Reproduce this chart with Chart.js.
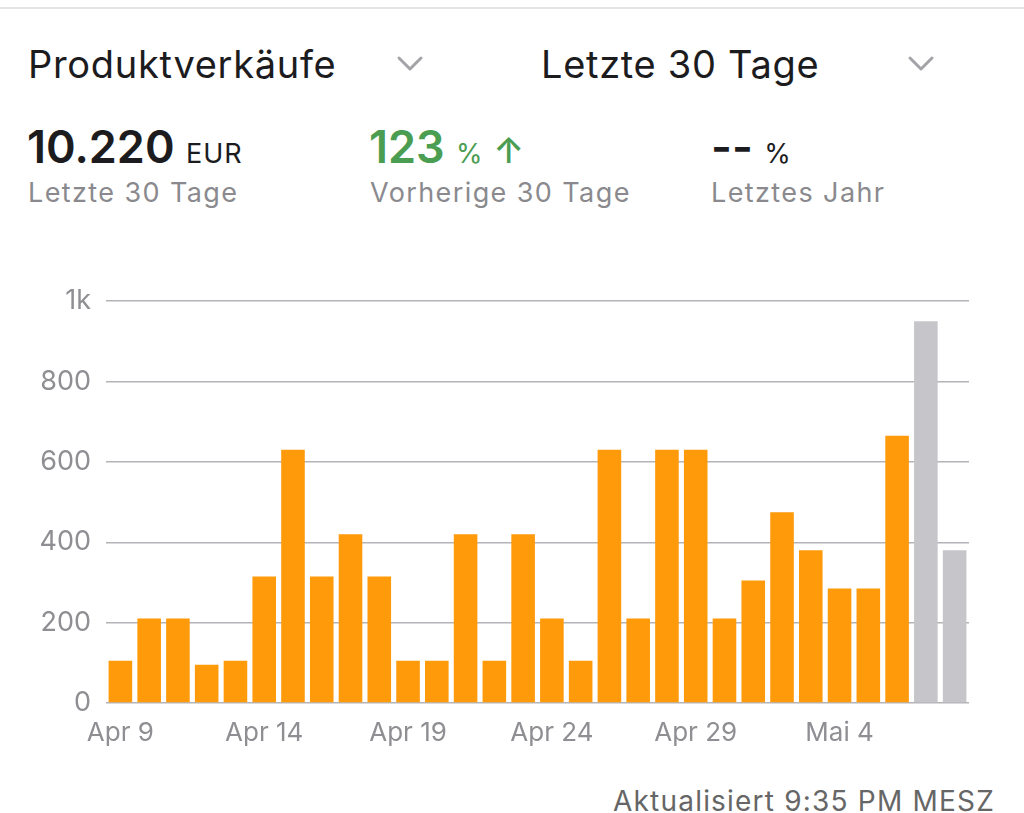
<!DOCTYPE html>
<html lang="de">
<head>
<meta charset="utf-8">
<title>Produktverkäufe</title>
<script src="https://cdn.jsdelivr.net/npm/chart.js@4.4.1/dist/chart.umd.min.js"></script>
<style>
    html, body {
        margin: 0;
        padding: 0;
        background: #ffffff;
        width: 1024px;
        height: 813px;
        overflow: hidden;
        font-family: 'Inter', 'Roboto', sans-serif;
    }
    .topline {
        position: absolute;
        left: 0;
        top: 7px;
        width: 1024px;
        height: 2px;
        background: #e4e4e6;
    }
    .t {
        position: absolute;
        white-space: nowrap;
        line-height: 1;
    }
    .picker { font-size: 38px; color: #1c1c1e; top: 45px; letter-spacing: 0.7px; }
    .big { font-size: 45px; font-weight: 600; top: 124px; color: #1c1c1e; }
    .unit { font-size: 27px; font-weight: 400; letter-spacing: 1px; }
    .sub { font-size: 27px; color: #8a8a8e; top: 179px; letter-spacing: 1.4px; }
    .green { color: #4a9d51; }
    .chev { position: absolute; top: 54px; }
    #chartBox {
        position: absolute;
        left: 0;
        top: 270px;
        width: 1000px;
        height: 490px;
    }
    .footer {
        position: absolute;
        right: 29px;
        top: 787px;
        font-size: 28px;
        color: #666666;
        line-height: 1;
        letter-spacing: 1.2px;
    }
</style>
</head>
<body>
<div class="topline"></div>

<div class="t picker" style="left:28px">Produktverkäufe</div>
<svg class="chev" style="left:396px" width="30" height="20" viewBox="0 0 30 20">
    <polyline points="3,4 14,15 25,4" fill="none" stroke="#a3a3a8" stroke-width="3" stroke-linecap="round" stroke-linejoin="round"/>
</svg>
<div class="t picker" style="left:541px">Letzte 30 Tage</div>
<svg class="chev" style="left:907px" width="30" height="20" viewBox="0 0 30 20">
    <polyline points="3,4 14,15 25,4" fill="none" stroke="#a3a3a8" stroke-width="3" stroke-linecap="round" stroke-linejoin="round"/>
</svg>

<div class="t big" style="left:27px">10.220 <span class="unit">EUR</span></div>
<div class="t big green" style="left:369px">123 <span class="unit">%</span><span style="font-size:36px;font-weight:500"> ↑</span></div>
<div class="t big" style="left:711px">-- <span class="unit">%</span></div>

<div class="t sub" style="left:28px">Letzte 30 Tage</div>
<div class="t sub" style="left:370px">Vorherige 30 Tage</div>
<div class="t sub" style="left:711px">Letztes Jahr</div>

<div id="chartBox"><canvas id="salesChart"></canvas></div>

<div class="footer">Aktualisiert 9:35 PM MESZ</div>

<script>
// Tageswerte (EUR), Apr 9 bis Mai 8
const days = [
    'Apr 9', 'Apr 10', 'Apr 11', 'Apr 12', 'Apr 13', 'Apr 14', 'Apr 15', 'Apr 16', 'Apr 17', 'Apr 18',
    'Apr 19', 'Apr 20', 'Apr 21', 'Apr 22', 'Apr 23', 'Apr 24', 'Apr 25', 'Apr 26', 'Apr 27', 'Apr 28',
    'Apr 29', 'Apr 30', 'Mai 1', 'Mai 2', 'Mai 3', 'Mai 4', 'Mai 5', 'Mai 6', 'Mai 7', 'Mai 8'
];
const sales = [
    105, 210, 210, 95, 105, 315, 630, 315, 420, 315,
    105, 105, 420, 105, 420, 210, 105, 630, 210, 630,
    630, 210, 305, 475, 380, 285, 285, 665, 950, 380
];
const pendingDays = 2; // last days still being processed (grey)
const yTicks = [0, 200, 400, 600, 800, 1000];
const labelEvery = 5;

const orange = '#ff9a0a';
const grey = '#c6c6ca';

document.addEventListener('DOMContentLoaded', function () {
    const ctx = document.getElementById('salesChart').getContext('2d');

    new Chart(ctx, {
        type: 'bar',
        data: {
            labels: days,
            datasets: [{
                data: sales,
                backgroundColor: c => c.dataIndex >= sales.length - pendingDays ? grey : orange,
                borderWidth: 0,
                barPercentage: 0.82,
                categoryPercentage: 1.0
            }]
        },
        options: {
            responsive: true,
            maintainAspectRatio: false,
            animation: false,
            layout: {
                padding: { top: 10, right: 31, bottom: 0, left: 0 }
            },
            plugins: {
                legend: { display: false },
                tooltip: { enabled: false }
            },
            scales: {
                x: {
                    grid: { display: false, drawTicks: false },
                    border: { display: false },
                    ticks: {
                        autoSkip: false,
                        maxRotation: 0,
                        padding: 15,
                        color: '#8e8e93',
                        font: { family: 'Inter', size: 26 },
                        callback: function (value, index) {
                            return index % labelEvery === 0 ? days[index] : '';
                        }
                    },
                    afterFit: function (scale) { scale.height = 57; }
                },
                y: {
                    min: 0,
                    max: 1000,
                    afterBuildTicks: function (scale) {
                        scale.ticks = yTicks.map(v => ({ value: v }));
                    },
                    grid: { color: '#b4b4b8', lineWidth: 1.5, drawTicks: false },
                    border: { display: false },
                    ticks: {
                        padding: 15,
                        color: '#8e8e93',
                        font: { family: 'Inter', size: 27 },
                        callback: function (value) {
                            return value >= 1000 ? (value / 1000) + 'k' : value;
                        }
                    },
                    afterFit: function (scale) { scale.width = 106; }
                }
            }
        }
    });
});
</script>
</body>
</html>
